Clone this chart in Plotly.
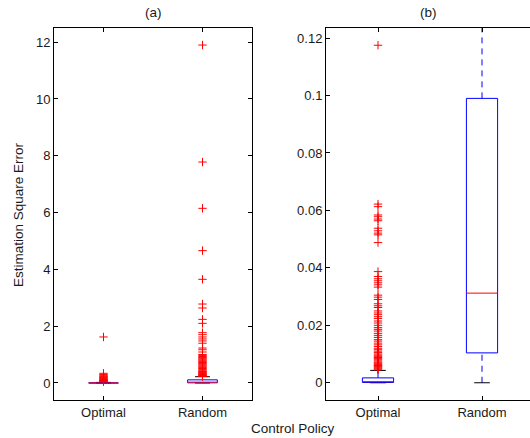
import plotly.graph_objects as go

categories = ["Optimal", "Random"]
positions = [1, 2]

# Panel (a) box statistics
a_q1 = [0.0, 0.005]
a_med = [0.002, 0.03]
a_q3 = [0.01, 0.11]
a_lo = [0.0, 0.0]
a_hi = [0.02, 0.22]
a_opt_out = [1.62, 0.34, 0.30, 0.27, 0.24, 0.22, 0.20, 0.18, 0.16, 0.14, 0.12,
             0.10, 0.09, 0.08, 0.07, 0.06, 0.05]
a_rand_out = [11.9, 7.78, 6.15, 4.66, 3.65, 2.78, 2.64, 2.24, 2.10, 1.77, 1.70,
              1.62, 1.55, 1.48, 1.40, 1.23, 1.17, 1.09, 1.00, 0.97, 0.93, 0.90,
              0.87, 0.84, 0.81, 0.78, 0.75, 0.72, 0.69, 0.66, 0.63, 0.60, 0.57,
              0.54, 0.51, 0.48, 0.45, 0.42, 0.40, 0.38, 0.36, 0.34, 0.32, 0.30,
              0.28, 0.26, 0.24, 0.23]

# Panel (b) box statistics
b_q1 = [0.0001, 0.0104]
b_med = [0.0004, 0.0312]
b_q3 = [0.0017, 0.099]
b_lo = [0.0, 0.0]
b_hi = [0.0043, 0.30]
b_opt_out = [0.1175, 0.0622, 0.0613, 0.0584, 0.0578, 0.0570, 0.0564, 0.0538,
             0.0529, 0.0521, 0.0515, 0.0488, 0.0387, 0.0370, 0.0362, 0.0355,
             0.0348, 0.0341, 0.0333, 0.0305, 0.0298, 0.0290, 0.0275, 0.0268,
             0.0262, 0.0250, 0.0243, 0.0237, 0.0230, 0.0224, 0.0215, 0.0208,
             0.0200, 0.0192, 0.0186, 0.0180, 0.0172, 0.0165, 0.0158, 0.0150,
             0.0145, 0.0138, 0.0132, 0.0126, 0.0120, 0.0115, 0.0110, 0.0105,
             0.0100, 0.0096, 0.0092, 0.0088, 0.0084, 0.0080, 0.0076, 0.0072,
             0.0069, 0.0066, 0.0063, 0.0060, 0.0057, 0.0054, 0.0051, 0.0048,
             0.0045]
b_rand_out = []

a_yticks = [0, 2, 4, 6, 8, 10, 12]
b_yticks = [0, 0.02, 0.04, 0.06, 0.08, 0.1, 0.12]
b_yticktext = ["0", "0.02", "0.04", "0.06", "0.08", "0.1", "0.12"]

FONT = "Liberation Sans, Arial, sans-serif"
BLUE = "#0000ff"
RED = "#ff0000"
TXT = "#1a1a1a"
BW = 0.15   # half box width
CW = 0.075  # half cap width

fig = go.Figure()


def add_boxes(xa, ya, q1, med, q3, lo, hi, outs):
    for i, c in enumerate(positions):
        # whiskers
        fig.add_trace(go.Scatter(x=[c, c], y=[q3[i], hi[i]], mode="lines",
                                 line=dict(color=BLUE, width=1, dash="6px,5px"),
                                 xaxis=xa, yaxis=ya, hoverinfo="skip"))
        fig.add_trace(go.Scatter(x=[c, c], y=[lo[i], q1[i]], mode="lines",
                                 line=dict(color=BLUE, width=1, dash="6px,5px"),
                                 xaxis=xa, yaxis=ya, hoverinfo="skip"))
        # caps
        for v in (lo[i], hi[i]):
            fig.add_trace(go.Scatter(x=[c - CW, c + CW], y=[v, v], mode="lines",
                                     line=dict(color="black", width=1),
                                     xaxis=xa, yaxis=ya, hoverinfo="skip"))
        # box
        fig.add_trace(go.Scatter(x=[c - BW, c + BW, c + BW, c - BW, c - BW],
                                 y=[q1[i], q1[i], q3[i], q3[i], q1[i]],
                                 mode="lines", line=dict(color=BLUE, width=1),
                                 xaxis=xa, yaxis=ya, hoverinfo="skip"))
        # median
        fig.add_trace(go.Scatter(x=[c - BW, c + BW], y=[med[i], med[i]],
                                 mode="lines", line=dict(color=RED, width=1),
                                 xaxis=xa, yaxis=ya, hoverinfo="skip"))
        # outliers
        if outs[i]:
            fig.add_trace(go.Scatter(x=[c] * len(outs[i]), y=outs[i], mode="markers",
                                     marker=dict(symbol="cross-thin", size=6,
                                                 line=dict(color=RED, width=1)),
                                     xaxis=xa, yaxis=ya, hoverinfo="skip"))


add_boxes("x", "y", a_q1, a_med, a_q3, a_lo, a_hi, [a_opt_out, a_rand_out])
add_boxes("x2", "y2", b_q1, b_med, b_q3, b_lo, b_hi, [b_opt_out, b_rand_out])

W, H = 530, 438
OFFX = 8  # page body left margin (kept); top margin removed below
OFFY = 0
axis_common = dict(showline=True, linecolor="black", linewidth=1, mirror="ticks",
                   ticks="inside", ticklen=4, tickcolor="black", showgrid=False,
                   zeroline=False, tickfont=dict(family=FONT, size=13, color=TXT))


def px(x):
    return (x - OFFX) / W


def py(y):
    return 1 - (y - OFFY) / H


title_font = dict(family=FONT, size=13.5, color=TXT)

fig.update_layout(
    width=W, height=H, showlegend=False,
    margin=dict(l=0, r=0, t=0, b=0),
    paper_bgcolor="white", plot_bgcolor="white",
    font=dict(family=FONT, size=13, color=TXT),
    xaxis=dict(domain=[px(54), px(252)], range=[0.5, 2.5], tickvals=positions,
               ticktext=categories, anchor="y", **axis_common),
    yaxis=dict(domain=[py(400), py(28)], range=[-0.6, 12.5], tickvals=a_yticks,
               anchor="x", **axis_common),
    xaxis2=dict(domain=[px(326), px(534)], range=[0.5, 2.5], tickvals=positions,
                ticktext=categories, anchor="y2", **axis_common),
    yaxis2=dict(domain=[py(400), py(28)], range=[-0.006, 0.1235], tickvals=b_yticks,
                ticktext=b_yticktext, anchor="x2", **axis_common),
    annotations=[
        dict(text="(a)", x=px(153), y=py(13), xref="paper", yref="paper",
             xanchor="center", yanchor="middle", showarrow=False, font=title_font),
        dict(text="(b)", x=px(428), y=py(13), xref="paper", yref="paper",
             xanchor="center", yanchor="middle", showarrow=False, font=title_font),
        dict(text="Estimation Square Error", x=px(18), y=py(215), xref="paper",
             yref="paper", textangle=-90, xanchor="center", yanchor="middle",
             showarrow=False, font=title_font),
        dict(text="Control Policy", x=px(293), y=py(428), xref="paper",
             yref="paper", xanchor="center", yanchor="middle", showarrow=False,
             font=title_font),
    ],
)

fig.write_html("out.html",
               post_script="document.body.style.margin='0px 0px 0px 8px';")
